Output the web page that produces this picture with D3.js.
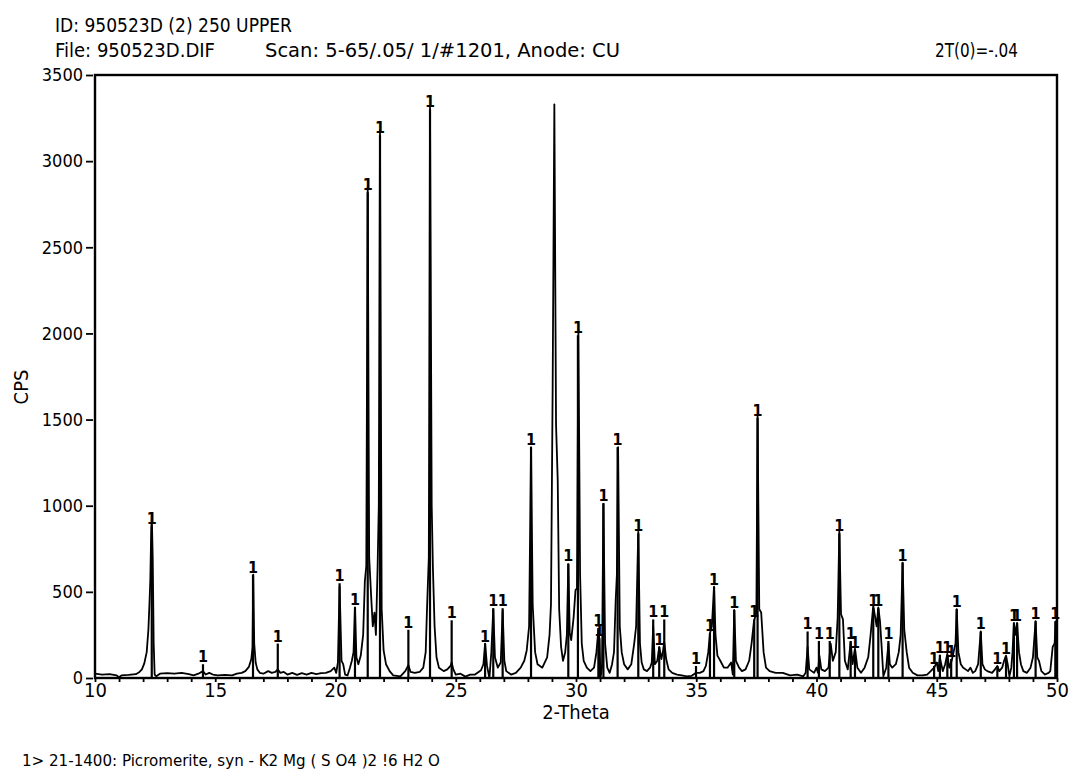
<!DOCTYPE html>
<html>
<head>
<meta charset="utf-8">
<script src="https://cdn.jsdelivr.net/npm/d3@7"></script>
<style>
  html, body { margin: 0; padding: 0; background: #fff; }
  svg { display: block; }
  text { font-family: "DejaVu Sans Condensed", "Liberation Sans Narrow", "Arial Narrow", sans-serif; fill: #000; }
</style>
</head>
<body>
<svg id="chart" width="1071" height="775"></svg>
<script>
// ---- header / footer texts ----
const titleLine1 = "ID: 950523D (2) 250 UPPER";
const fileText = "File: 950523D.DIF";
const scanText = "Scan: 5-65/.05/ 1/#1201, Anode: CU";
const zeroText = "2T(0)=-.04";
const xTitle = "2-Theta";
const yTitle = "CPS";
const footerText = "1> 21-1400: Picromerite, syn - K2 Mg ( S O4 )2 !6 H2 O";

// ---- axes ----
const xDomain = [10, 50];
const yDomain = [0, 3500];
const yTicks = [0, 500, 1000, 1500, 2000, 2500, 3000, 3500];
const xMajorTicks = [10, 15, 20, 25, 30, 35, 40, 45, 50];

// ---- measured scan: [2-Theta, CPS] ----
const scanPoints = [
[10.0,25],[10.3,20],[10.6,22],[10.9,15],[11.0,5],[11.1,15],[11.4,18],[11.7,22],[11.85,35],[11.95,50],
[12.05,85],[12.15,150],[12.22,280],[12.27,450],[12.3,570],[12.33,800],[12.36,950],[12.4,700],[12.44,200],[12.48,20],
[12.55,10],[12.7,25],[13.0,28],[13.3,25],[13.6,30],[13.9,22],[14.1,15],[14.3,25],[14.49,40],[14.6,20],
[14.75,30],[14.9,20],[15.1,15],[15.4,18],[15.7,15],[15.9,25],[16.1,30],[16.25,40],[16.4,65],[16.5,110],
[16.55,180],[16.58,600],[16.62,200],[16.68,90],[16.75,50],[16.85,30],[17.0,25],[17.2,40],[17.35,30],[17.5,35],
[17.6,50],[17.7,30],[17.85,35],[18.0,20],[18.2,30],[18.4,18],[18.6,28],[18.8,20],[19.0,30],[19.2,22],
[19.4,28],[19.6,30],[19.8,40],[19.95,60],[20.03,30],[20.1,90],[20.17,530],[20.25,100],[20.32,80],[20.4,20],
[20.5,15],[20.6,60],[20.68,100],[20.75,150],[20.81,410],[20.87,120],[20.95,80],[21.05,130],[21.15,250],[21.22,560],
[21.28,650],[21.34,2850],[21.4,700],[21.48,480],[21.55,300],[21.62,380],[21.68,250],[21.75,640],[21.8,1000],[21.85,3180],
[21.92,400],[22.0,160],[22.1,80],[22.25,40],[22.4,15],[22.7,10],[22.9,40],[23.03,75],[23.12,35],[23.3,30],
[23.5,35],[23.65,60],[23.75,150],[23.8,380],[23.88,700],[23.93,3320],[24.0,1000],[24.05,640],[24.12,300],[24.2,120],
[24.3,60],[24.5,40],[24.65,50],[24.78,70],[24.83,90],[24.9,50],[25.0,20],[25.2,25],[25.4,8],[25.6,20],
[25.8,20],[25.95,35],[26.05,45],[26.15,80],[26.22,200],[26.3,70],[26.4,0],[26.48,150],[26.56,400],[26.63,120],
[26.75,60],[26.87,90],[26.95,390],[27.02,100],[27.1,40],[27.3,20],[27.5,30],[27.7,60],[27.85,100],[27.95,160],
[28.05,300],[28.13,1340],[28.2,420],[28.3,150],[28.4,80],[28.6,60],[28.8,120],[28.9,250],[28.96,430],[29.03,1700],
[29.1,3330],[29.17,1470],[29.24,1150],[29.3,400],[29.38,180],[29.46,100],[29.55,150],[29.62,250],[29.68,660],[29.74,260],
[29.8,220],[29.9,350],[29.98,510],[30.04,520],[30.1,2020],[30.17,600],[30.24,200],[30.32,100],[30.45,60],[30.6,40],
[30.75,60],[30.85,150],[30.93,280],[30.97,230],[31.02,0],[31.08,60],[31.14,1010],[31.21,200],[31.3,60],[31.4,30],
[31.5,80],[31.58,150],[31.65,450],[31.7,600],[31.75,1340],[31.82,300],[31.9,150],[32.0,80],[32.15,50],[32.3,80],
[32.42,200],[32.5,300],[32.59,850],[32.66,200],[32.73,90],[32.82,50],[32.95,40],[33.08,60],[33.15,90],[33.21,300],
[33.28,80],[33.38,100],[33.46,180],[33.55,110],[33.62,160],[33.67,210],[33.75,110],[33.85,50],[34.0,30],[34.2,20],
[34.4,15],[34.6,10],[34.8,12],[34.99,30],[35.15,30],[35.3,40],[35.4,70],[35.5,150],[35.57,260],[35.65,300],
[35.74,530],[35.8,250],[35.88,130],[36.0,100],[36.15,60],[36.3,60],[36.45,90],[36.52,20],[36.58,395],[36.65,100],
[36.78,60],[36.9,40],[37.05,50],[37.2,100],[37.3,200],[37.4,330],[37.5,380],[37.55,1520],[37.62,400],[37.7,380],
[37.8,150],[37.9,60],[38.05,40],[38.3,30],[38.6,30],[38.9,15],[39.2,20],[39.45,10],[39.55,30],[39.63,180],
[39.7,50],[39.8,40],[39.9,30],[40.0,60],[40.06,30],[40.12,130],[40.2,50],[40.35,40],[40.5,60],[40.59,200],
[40.68,100],[40.8,150],[40.88,350],[40.95,850],[41.02,370],[41.1,340],[41.18,100],[41.3,50],[41.42,210],[41.5,80],
[41.6,170],[41.7,60],[41.85,30],[42.0,60],[42.15,120],[42.25,250],[42.36,420],[42.43,360],[42.5,300],[42.57,410],
[42.64,330],[42.7,200],[42.78,10],[42.9,60],[42.99,200],[43.05,80],[43.15,60],[43.3,80],[43.42,150],[43.5,250],
[43.58,670],[43.65,280],[43.75,150],[43.85,60],[44.0,30],[44.2,15],[44.4,15],[44.6,20],[44.75,40],[44.89,60],
[45.0,90],[45.06,40],[45.13,120],[45.25,40],[45.35,80],[45.44,140],[45.52,60],[45.62,100],[45.7,150],[45.78,200],
[45.83,400],[45.9,150],[46.0,80],[46.1,60],[46.2,50],[46.3,40],[46.4,60],[46.5,30],[46.6,40],[46.72,80],
[46.83,270],[46.9,80],[47.0,50],[47.1,40],[47.3,30],[47.42,50],[47.52,70],[47.6,40],[47.72,60],[47.8,100],
[47.88,130],[47.95,80],[48.02,10],[48.1,60],[48.15,150],[48.21,320],[48.28,250],[48.34,320],[48.42,150],[48.5,80],
[48.6,40],[48.75,30],[48.9,60],[49.0,120],[49.11,330],[49.18,120],[49.25,100],[49.35,40],[49.5,20],[49.65,30],
[49.72,40],[49.82,180],[49.9,200],[49.96,330],[50.0,250]
];

// ---- reference pattern 21-1400 (stick lines, label "1") ----
const refTheta = [12.36,14.49,16.57,17.60,20.17,20.81,21.34,21.85,23.03,23.93,24.83,26.22,26.56,26.95,28.13,29.68,30.08,30.93,30.97,31.14,31.73,32.59,33.21,33.46,33.67,34.99,35.57,35.74,36.58,37.41,37.55,39.63,40.1,40.55,40.95,41.42,41.6,42.36,42.57,42.99,43.58,44.89,45.13,45.44,45.6,45.83,46.83,47.52,47.88,48.21,48.34,49.11,49.93];
const refCps = [880,80,600,200,550,410,2820,3150,280,3300,335,200,405,405,1340,665,1990,290,230,1015,1340,840,340,180,340,70,260,530,395,340,1510,270,215,215,840,215,160,405,405,215,670,70,135,135,110,400,270,70,125,320,320,330,330];
const refLabel = "1";

// ---- drawing ----
const svg = d3.select("#chart");
svg.append("rect").attr("width", 1071).attr("height", 775).attr("fill", "#fff");

const x = d3.scaleLinear().domain(xDomain).range([95, 1057]);
const y = d3.scaleLinear().domain(yDomain).range([678, 75]);

// header
svg.append("text").attr("x", 55).attr("y", 32).attr("font-size", 19)
  .attr("textLength", 237).attr("lengthAdjust", "spacingAndGlyphs").text(titleLine1);
svg.append("text").attr("x", 55).attr("y", 57).attr("font-size", 19)
  .attr("textLength", 160).attr("lengthAdjust", "spacingAndGlyphs").text(fileText);
svg.append("text").attr("x", 265).attr("y", 57).attr("font-size", 19)
  .attr("textLength", 355).attr("lengthAdjust", "spacingAndGlyphs").text(scanText);
svg.append("text").attr("x", 935).attr("y", 57).attr("font-size", 19)
  .attr("textLength", 83).attr("lengthAdjust", "spacingAndGlyphs").text(zeroText);

// y axis
const yAxis = d3.axisLeft(y).tickValues(yTicks).tickSize(7).tickPadding(3).tickFormat(d3.format("d"));
const gy = svg.append("g").attr("transform", "translate(93,0)").call(yAxis);
gy.select(".domain").remove();
gy.selectAll(".tick line").attr("stroke", "#000").attr("stroke-width", 1.8);
gy.selectAll(".tick text").attr("font-size", 18)
  .attr("font-family", "'DejaVu Sans Condensed','Liberation Sans Narrow',sans-serif");

// x axis
const xAxis = d3.axisBottom(x).tickValues(d3.range(10, 51, 1)).tickSize(4).tickPadding(1)
  .tickFormat(d => xMajorTicks.includes(d) ? d : "");
const gx = svg.append("g").attr("transform", "translate(0,678)").call(xAxis);
gx.select(".domain").remove();
gx.selectAll(".tick line").attr("stroke", "#000").attr("stroke-width", 1.8);
gx.selectAll(".tick text").attr("font-size", 20)
  .attr("font-family", "'DejaVu Sans Condensed','Liberation Sans Narrow',sans-serif");

// frame
svg.append("rect").attr("x", x(10)).attr("y", y(3500))
  .attr("width", x(50) - x(10)).attr("height", y(0) - y(3500))
  .attr("fill", "none").attr("stroke", "#000").attr("stroke-width", 2.4);

// reference sticks
const sticks = refTheta.map((t, i) => ({ t, c: refCps[i] }));
svg.append("g").selectAll("line").data(sticks).join("line")
  .attr("x1", d => x(d.t)).attr("x2", d => x(d.t))
  .attr("y1", y(0)).attr("y2", d => y(d.c))
  .attr("stroke", "#000").attr("stroke-width", 2.2);
svg.append("g").selectAll("text").data(sticks).join("text")
  .attr("x", d => x(d.t)).attr("y", d => y(d.c) - 2)
  .attr("text-anchor", "middle").attr("font-size", 16).attr("font-weight", "bold")
  .text(refLabel);

// scan trace
const line = d3.line().x(d => x(d[0])).y(d => y(d[1]));
svg.append("path").datum(scanPoints).attr("d", line)
  .attr("fill", "none").attr("stroke", "#000").attr("stroke-width", 1.8)
  .attr("stroke-linejoin", "round");

// axis titles
svg.append("text").attr("x", 576).attr("y", 719).attr("text-anchor", "middle").attr("font-size", 20).text(xTitle);
svg.append("text").attr("transform", "translate(28,387) rotate(-90)").attr("text-anchor", "middle").attr("font-size", 20).text(yTitle);

// footer
svg.append("text").attr("x", 22).attr("y", 766).attr("font-size", 16)
  .attr("textLength", 418).attr("lengthAdjust", "spacingAndGlyphs").text(footerText);
</script>
</body>
</html>
